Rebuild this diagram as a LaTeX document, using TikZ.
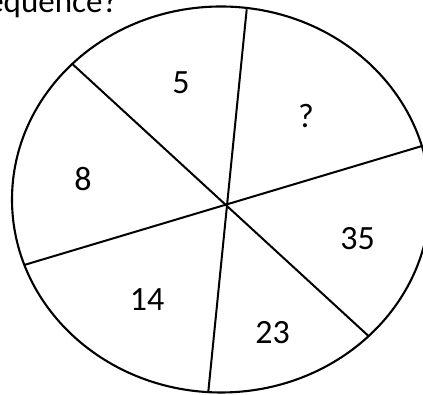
\documentclass[tikz,border=0pt]{standalone}
\usepackage{fontspec}
\setmainfont{Carlito}
\begin{document}
\begin{tikzpicture}[x=1pt,y=1pt,
  rim/.style={line width=2.1pt},
  spoke/.style={line width=2pt},
  lbl/.style={inner sep=0pt,font=\fontsize{34}{40}\selectfont}]
\useasboundingbox (0,0) rectangle (423,395);
\clip (0,0) rectangle (423,395);
\fill[white] (0,0) rectangle (423,395);
\draw[rim] (221,195.5) ellipse [x radius=209, y radius=193];
\coordinate (a1) at (246.7,385.7);
\coordinate (a2) at (208.3,3.3);
\coordinate (b1) at (72.7,330.7);
\coordinate (b2) at (368.5,59);
\coordinate (c1) at (24.2,130);
\coordinate (c2) at (422,249);
\draw[spoke] (a1) -- (a2);
\draw[spoke] (b1) -- (b2);
\draw[spoke] (c1) -- (c2);
\node[lbl] (n5) at (181,312.5) {5};
\node[lbl] (nq) at (306,278.5) {?};
\node[lbl] (n8) at (83,216) {8};
\node[lbl] (n35) at (357.5,156) {35};
\node[lbl] (n14) at (147,95.5) {14};
\node[lbl] (n23) at (272.5,62.5) {23};
\node[inner sep=0pt,anchor=base east,font=\fontsize{33}{40}\selectfont] (title) at (118,382.3) {sequence?};
\end{tikzpicture}
\end{document}
